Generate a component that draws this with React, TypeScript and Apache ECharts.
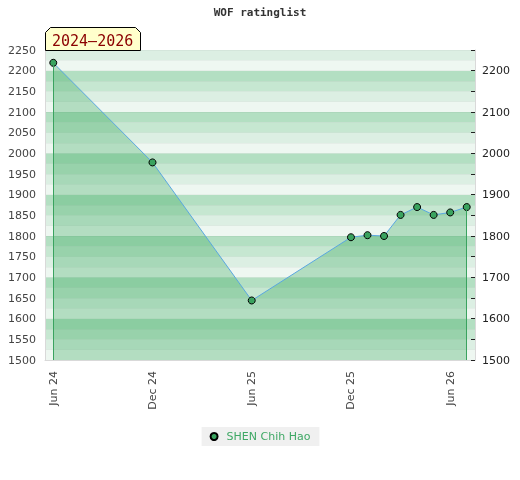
import React, { useEffect, useRef } from "react";
import * as echarts from "echarts";

const months: string[] = [
  "Jun 24", "Jul 24", "Aug 24", "Sep 24", "Oct 24", "Nov 24",
  "Dec 24", "Jan 25", "Feb 25", "Mar 25", "Apr 25", "May 25",
  "Jun 25", "Jul 25", "Aug 25", "Sep 25", "Oct 25", "Nov 25",
  "Dec 25", "Jan 26", "Feb 26", "Mar 26", "Apr 26", "May 26",
  "Jun 26", "Jul 26",
];

const ratings: (number | null)[] = [
  2219, null, null, null, null, null,
  1978, null, null, null, null, null,
  1644, null, null, null, null, null,
  1797, 1802, 1800, 1851, 1870, 1851,
  1857, 1870,
];

const playerName = "SHEN Chih Hao";
const chartTitle = "WOF ratinglist";
const periodLabel = "2024–2026";
const yMin = 1500;
const yMax = 2250;

export default function App() {
  const ref = useRef<HTMLDivElement>(null);

  useEffect(() => {
    if (!ref.current) return;
    const chart = echarts.init(ref.current, undefined, { renderer: "svg" });
    const firstIdx = ratings.findIndex((v) => v !== null);
    let lastIdx = ratings.length - 1;
    while (lastIdx > 0 && ratings[lastIdx] === null) lastIdx--;
    const font = "DejaVu Sans";

    chart.setOption({
      animation: false,
      title: {
        text: chartTitle,
        left: "center",
        top: 2,
        textStyle: {
          fontFamily: "DejaVu Sans Mono",
          fontWeight: "bold",
          fontSize: 11,
          color: "#333",
        },
      },
      legend: {
        data: [{ name: playerName, icon: "circle" }],
        left: "center",
        top: 427,
        itemWidth: 7,
        itemHeight: 7,
        backgroundColor: "#f0f0f0",
        padding: [4, 9, 4, 8],
        textStyle: {
          fontFamily: font,
          fontSize: 11,
          color: "#3fa865",
          padding: [0, 0, 0, 4],
        },
      },
      grid: { left: 45, right: 45, top: 50, bottom: 120, containLabel: false },
      xAxis: {
        type: "category",
        data: months,
        boundaryGap: true,
        axisLine: { show: true, lineStyle: { color: "#d9d9d9" } },
        axisTick: { show: false },
        splitLine: { show: false },
        axisLabel: {
          interval: 5,
          rotate: 90,
          margin: 11,
          fontFamily: font,
          fontSize: 11,
          color: "#444",
        },
      },
      yAxis: [
        {
          type: "value",
          position: "left",
          min: yMin,
          max: yMax,
          interval: 50,
          axisLine: { show: true, lineStyle: { color: "#d9d9d9" } },
          axisTick: { show: false },
          splitLine: { show: false },
          axisLabel: {
            margin: 9,
            fontFamily: font,
            fontSize: 11,
            color: "#444",
            formatter: (v: number) => String(v),
          },
        },
        {
          type: "value",
          position: "right",
          min: yMin,
          max: yMax,
          interval: 50,
          axisLine: { show: true, lineStyle: { color: "#d9d9d9" } },
          axisTick: { show: true, inside: true, length: 4, lineStyle: { color: "#222" } },
          splitLine: { show: false },
          axisLabel: {
            margin: 7,
            fontFamily: font,
            fontSize: 11,
            color: "#222",
            formatter: (v: number) => (v % 100 === 0 ? String(v) : ""),
          },
        },
        {
          type: "value",
          position: "right",
          min: yMin,
          max: yMax,
          interval: 25,
          axisLine: { show: false },
          axisTick: { show: false },
          axisLabel: { show: false },
          splitLine: { show: true, lineStyle: { color: "rgba(0,0,0,0.035)", width: 1 } },
          splitArea: {
            show: true,
            areaStyle: { color: ["#eef7f1", "#dcefe3", "#c6e7d1", "#b3dfc2"] },
          },
          z: 0,
        },
      ],
      series: [
        {
          name: playerName,
          type: "line",
          yAxisIndex: 0,
          data: ratings,
          connectNulls: true,
          symbol: "circle",
          symbolSize: 7,
          lineStyle: { color: "#5aa7e0", width: 1 },
          itemStyle: { color: "#3aa35f", borderColor: "#000", borderWidth: 1 },
          areaStyle: { color: "rgba(50,165,90,0.45)", origin: "start" },
          z: 3,
          markLine: {
            silent: true,
            symbol: ["none", "none"],
            label: { show: false },
            lineStyle: { color: "#3aa35f", type: "solid", width: 1 },
            emphasis: { disabled: true },
            data: [
              [{ coord: [firstIdx, ratings[firstIdx]] }, { coord: [firstIdx, yMin] }],
              [{ coord: [lastIdx, ratings[lastIdx]] }, { coord: [lastIdx, yMin] }],
            ],
          },
        },
      ],
      graphic: [
        {
          type: "polygon",
          shape: {
            points: [
              [45.5, 50.5],
              [45.5, 32.5],
              [50.5, 27.5],
              [135.5, 27.5],
              [140.5, 32.5],
              [140.5, 50.5],
            ],
          },
          style: { fill: "#ffffcc", stroke: "#000", lineWidth: 1 },
          z: 10,
        },
        {
          type: "text",
          x: 52,
          y: 41,
          style: {
            text: periodLabel,
            fill: "#8b0000",
            font: "15px 'DejaVu Sans Mono'",
            verticalAlign: "middle",
          },
          z: 11,
        },
      ],
    });

    return () => chart.dispose();
  }, []);

  return (
    <div
      ref={ref}
      style={{ position: "fixed", left: 0, top: 0, width: 520, height: 480 }}
    />
  );
}
